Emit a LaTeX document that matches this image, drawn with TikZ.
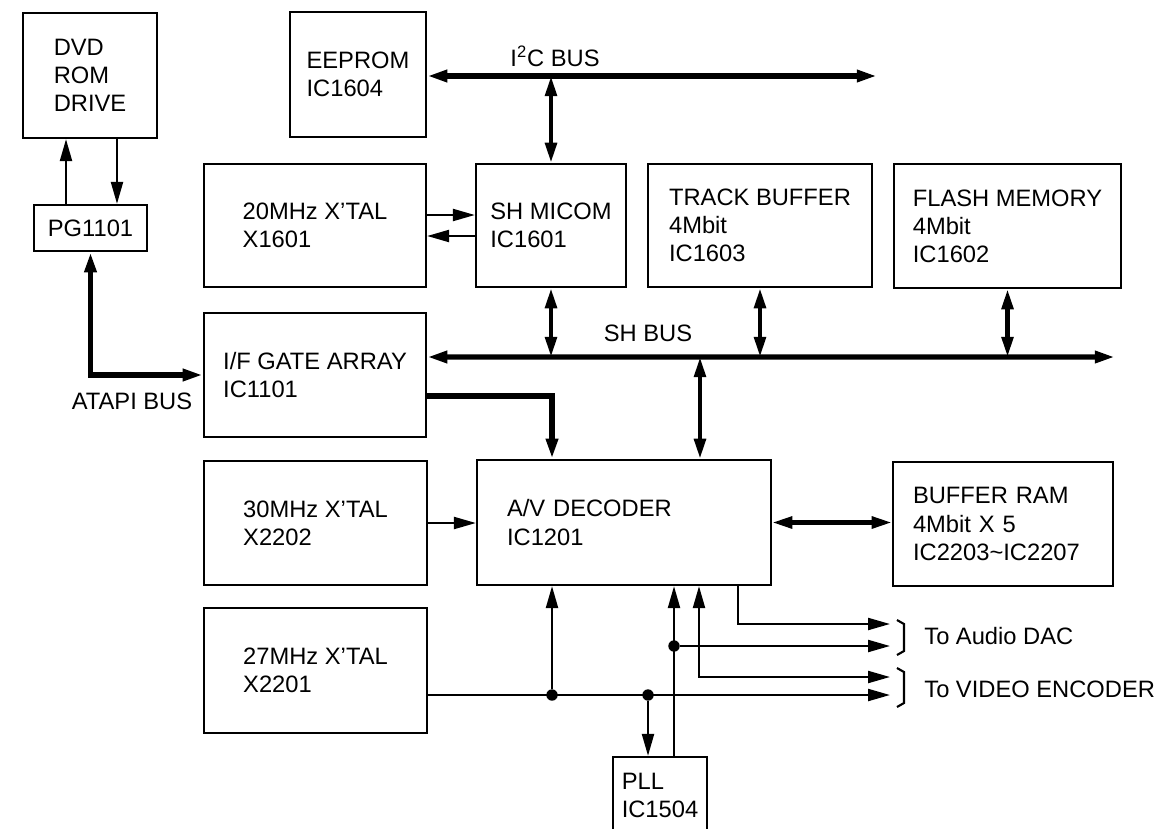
\documentclass[tikz,border=0pt]{standalone}
\usepackage{fontspec}
\setmainfont{Liberation Sans}
\usetikzlibrary{arrows.meta,positioning}
\tikzset{
  blk/.style={draw, line width=1.3pt, align=left, inner sep=0pt,
    font=\fontsize{13.5}{16}\selectfont},
  lbl/.style={inner sep=0pt, font=\fontsize{13.5}{16}\selectfont},
  arr/.style={-{Triangle[length=12.5pt,width=6.8pt]}, line width=1.3pt},
  dblarr/.style={{Triangle[length=12.5pt,width=6.8pt]}-{Triangle[length=12.5pt,width=6.8pt]}, line width=1.3pt},
  lnkarr/.style={{Triangle[length=11.5pt,width=6.5pt]}-{Triangle[length=11.5pt,width=6.5pt]}, line width=2.5pt},
  busarr/.style={{Triangle[length=11.5pt,width=6.5pt]}-{Triangle[length=11.5pt,width=6.5pt]}, line width=3pt},
  thkarr/.style={-{Triangle[length=11.5pt,width=6.5pt]}, line width=3pt},
  dot/.style={circle, fill, inner sep=0pt, minimum size=6.5pt}
}
\begin{document}
\begin{tikzpicture}[x=0.02cm, y=-0.02cm]
    \useasboundingbox (0,0) rectangle (1165,828);
    \clip (0,0) rectangle (1165,828);
    % blocks
    \node[blk, minimum width=2.68cm, minimum height=2.50cm] (dvd) at (90,75.5) {DVD\\ROM\\DRIVE};
    \node[blk, minimum width=2.26cm, minimum height=0.92cm] (pg) at (90.5,228) {PG1101};
    \node[blk, minimum width=2.72cm, minimum height=2.50cm] (eeprom) at (358,74.5) {EEPROM\\IC1604};
    \node[blk, minimum width=4.44cm, minimum height=2.46cm] (xtal20) at (315,225.5) {20MHz X'TAL\\X1601};
    \node[blk, minimum width=3.00cm, minimum height=2.46cm] (micom) at (551,225.5) {SH MICOM\\IC1601};
    \node[blk, minimum width=4.48cm, minimum height=2.46cm] (track) at (760,225.5) {TRACK BUFFER\\4Mbit\\IC1603};
    \node[blk, minimum width=4.54cm, minimum height=2.48cm] (flash) at (1007.5,226) {FLASH MEMORY\\4Mbit\\IC1602};
    \node[blk, minimum width=4.44cm, minimum height=2.48cm] (ifga) at (315,375) {I/F GATE ARRAY\\IC1101};
    \node[blk, minimum width=5.88cm, minimum height=2.50cm, text width=4.68cm] (avdec) at (624,522.5) {A/V DECODER\\IC1201};
    \node[blk, minimum width=4.46cm, minimum height=2.48cm] (xtal30) at (315.5,523) {30MHz X'TAL\\X2202};
    \node[blk, minimum width=4.40cm, minimum height=2.48cm, text width=3.60cm] (bufram) at (1003,524) {BUFFER RAM\\4Mbit X 5\\IC2203\textasciitilde IC2207};
    \node[blk, minimum width=4.46cm, minimum height=2.50cm] (xtal27) at (315.5,670.5) {27MHz X'TAL\\X2201};
    \node[blk, minimum width=1.88cm, minimum height=1.52cm] (pll) at (660,795) {PLL\\IC1504};
    % bus ends and outputs
    \coordinate (i2cend) at (877,76);
    \coordinate (shend) at (1115,357);
    \coordinate (aud1) at (890,624);
    \coordinate (aud2) at (890,646);
    \coordinate (vid1) at (890,677);
    \coordinate (vid2) at (890,695);
    \node[dot] (j1) at (552,695) {};
    \node[dot] (j2) at (648,695) {};
    \node[dot] (j3) at (674,646) {};
    % labels
    \node[lbl] (i2clbl) at (555,56) {I\textsuperscript{2}C BUS};
    \node[lbl] (shlbl) at (648,333) {SH BUS};
    \node[lbl] (atapilbl) at (132,401) {ATAPI BUS};
    \node[lbl, anchor=west] (audlbl) at (924,636) {To Audio DAC};
    \node[lbl, anchor=west] (vidlbl) at (924,689) {To VIDEO ENCODER};
    % drive side
    \draw[arr] ([xshift=-0.49cm]pg.north) -- ([xshift=-0.49cm]pg.north |- dvd.south);
    \draw[arr] ([xshift=0.54cm]dvd.south) -- ([xshift=0.54cm]dvd.south |- pg.north);
    \draw[busarr] (pg.south) |- (ifga.west);
    % I2C bus
    \draw[busarr] (eeprom.east |- i2cend) -- (i2cend);
    \draw[lnkarr] (micom.north) -- (micom.north |- i2cend);
    \draw[arr] ([yshift=0.21cm]xtal20.east) -- ([yshift=0.21cm]micom.west);
    \draw[arr] ([yshift=-0.21cm]micom.west) -- ([yshift=-0.21cm]xtal20.east);
    % SH bus
    \draw[busarr] ([yshift=0.36cm]ifga.east) -- (shend);
    \draw[lnkarr] (micom.south) -- (micom.south |- shend);
    \draw[lnkarr] (track.south) -- (track.south |- shend);
    \draw[lnkarr] (flash.south) -- (flash.south |- shend);
    \draw[lnkarr] ([xshift=1.52cm]avdec.north |- shend) -- ([xshift=1.52cm]avdec.north);
    \draw[thkarr] ([yshift=-0.42cm]ifga.east) -| ([xshift=-1.44cm]avdec.north);
    % decoder
    \draw[arr] (xtal30.east) -- (xtal30.east -| avdec.west);
    \draw[lnkarr] (avdec.east) -- (avdec.east -| bufram.west);
    \draw[arr] (xtal27.east |- j1) -- (vid2);
    \draw[arr] (j1) -- (j1 |- avdec.south);
    \draw[arr] (j2) -- (j2 |- pll.north);
    \draw[arr] (j3 |- pll.north) -- (j3 |- avdec.south);
    \draw[arr] (j3) -- (aud2);
    \draw[dblarr] (vid1) -| ([xshift=1.5cm]avdec.south);
    \draw[arr] ([xshift=2.28cm]avdec.south) |- (aud1);
    % brackets
    \draw[line width=1.2pt] (897,620) -- (904,624) -- (904,651) -- (897,655);
    \draw[line width=1.2pt] (897,668) -- (904,672) -- (904,703) -- (897,707);
\end{tikzpicture}
\end{document}
